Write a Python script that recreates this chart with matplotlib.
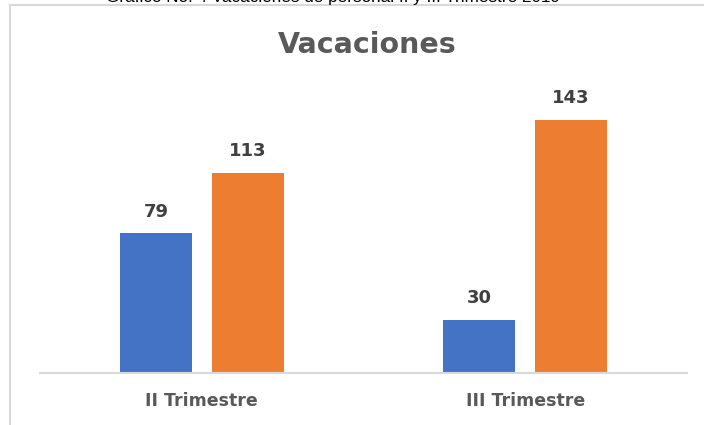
import matplotlib.pyplot as plt
import numpy as np

plt.rcParams['font.family'] = ['DejaVu Sans']

# Data
trimestres = ['II Trimestre', 'III Trimestre']
serie_azul = [79, 30]
serie_naranja = [113, 143]

fig = plt.figure(figsize=(7.04, 4.25), dpi=100)

# outer chart border (top and left only, rest is cropped)
fig.add_artist(plt.Line2D([10 / 704, 10 / 704], [0, 1 - 5 / 425], color='#D9D9D9', lw=1.5))
fig.add_artist(plt.Line2D([10 / 704, 1], [1 - 5 / 425, 1 - 5 / 425], color='#D9D9D9', lw=1.5))

# caption cut off at the top
fig.text(333 / 704, 1 - 2 / 425, 'Gráfico No. 4 Vacaciones de personal II y III Trimestre 2019',
         ha='center', va='baseline', fontsize=12.3, family='Liberation Sans', color='#000000')

ax = fig.add_axes([40 / 704, 52 / 425, 647 / 704, 283 / 425])

x = np.arange(len(trimestres))
w = 0.2226
off = 0.142
b1 = ax.bar(x - off, serie_azul, w, color='#4472C4')
b2 = ax.bar(x + off, serie_naranja, w, color='#ED7D31')

for bars in (b1, b2):
    for rect in bars:
        ax.annotate(f'{rect.get_height():.0f}',
                    (rect.get_x() + rect.get_width() / 2, rect.get_height()),
                    xytext=(0, 12), textcoords='offset points',
                    ha='center', va='baseline', fontsize=13, fontweight='bold', color='#404040')

ax.set_xlim(-0.5, 1.5)
ax.set_ylim(0, 160)
ax.set_xticks(x)
ax.set_xticklabels(trimestres, fontsize=12.5, fontweight='bold', color='#595959')
ax.tick_params(axis='x', length=0, pad=14)
ax.set_yticks([])
for s in ['top', 'right', 'left']:
    ax.spines[s].set_visible(False)
ax.spines['bottom'].set_color('#D9D9D9')
ax.spines['bottom'].set_linewidth(1.5)

fig.text(367 / 704, 1 - 45 / 425, 'Vacaciones', ha='center', va='center',
         fontsize=20.5, fontweight='bold', color='#595959')

plt.savefig('out.png', dpi=100)
plt.close()
